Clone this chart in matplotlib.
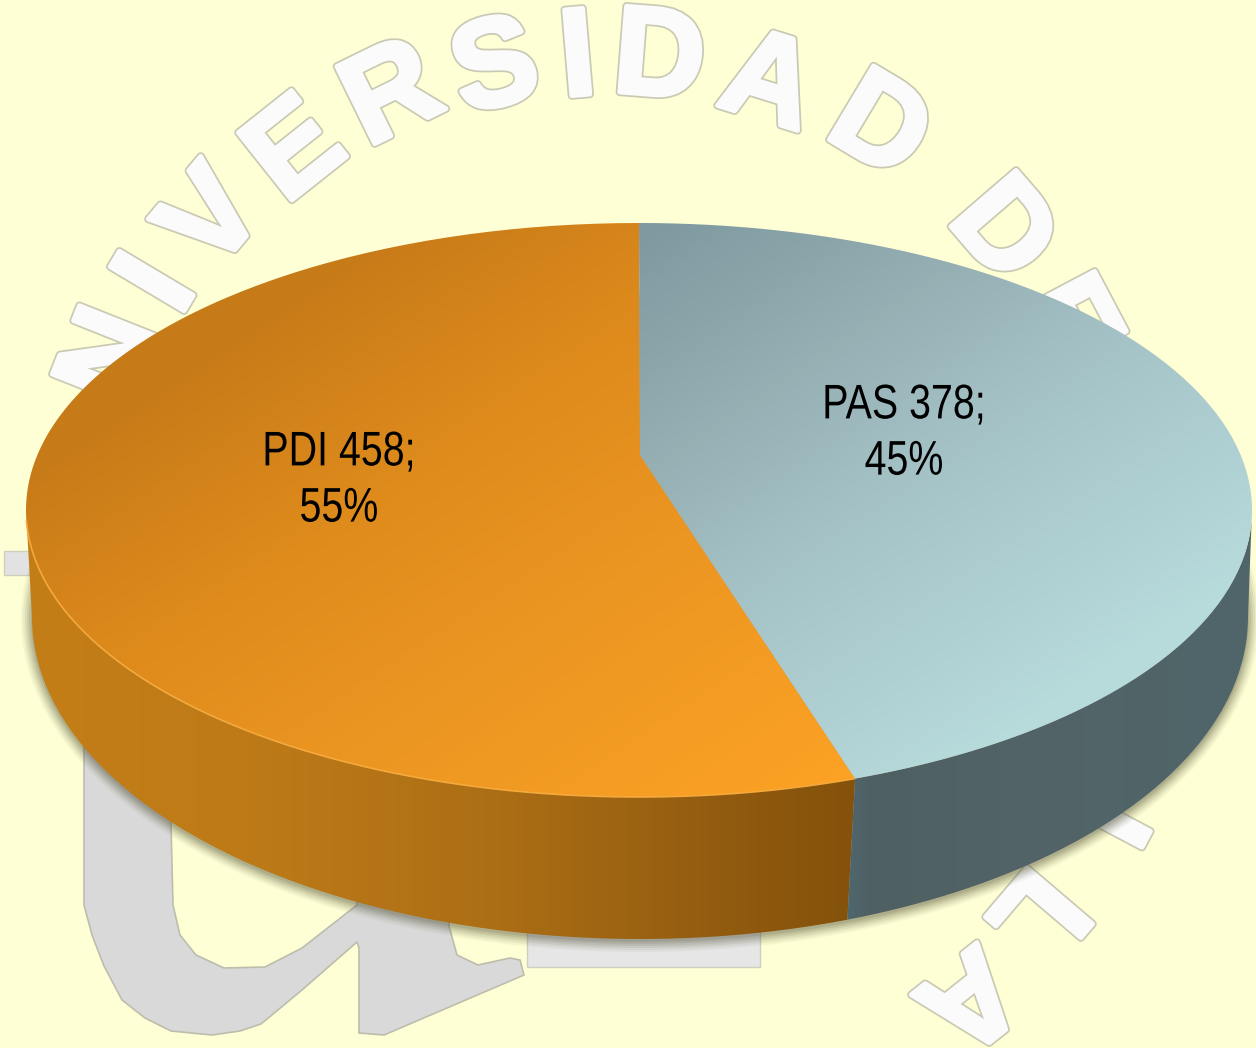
import numpy as np
import matplotlib
matplotlib.use('Agg')
import matplotlib.pyplot as plt
import matplotlib.patheffects as pe
from matplotlib.colors import to_rgb
from matplotlib.patches import PathPatch, Polygon, Rectangle, Ellipse
from matplotlib.path import Path
from matplotlib.transforms import Affine2D

# data
names = ['PAS', 'PDI']
values = [378, 458]
percents = [45, 55]

BG = '#FFFFD5'
W, H = 1256, 1048

# top face and bottom rim of the disc, in pixels
cx, cy, rx, ry = 639, 510, 613, 287
bx, by, brx, bry = 640, 617, 608, 322
apex = (640, 455)

# watermark letters, going clockwise round the seal
wm_letters = ['N', 'I', 'V', 'E', 'R', 'S', 'I', 'D', 'A', 'D', 'D', 'E', 'I', 'L', 'A']
wm_x = [104, 150, 206, 290, 388, 493, 577, 660, 771, 884, 1009, 1074, 1110, 1042, 972]
wm_y = [355, 280, 214, 144, 87, 60, 50, 50, 75, 120, 225, 320, 820, 920, 1004]
seal = (620, 560)

fig = plt.figure(figsize=(W / 100, H / 100), dpi=100, facecolor=BG)
ax = fig.add_axes([0, 0, 1, 1])
ax.set_xlim(0, W)
ax.set_ylim(H, 0)
ax.axis('off')


class Squeeze(pe.AbstractPathEffect):
    # the labels are set in a condensed face, none is installed so narrow the glyphs
    def __init__(self, sx, x0):
        super().__init__()
        self.sx = sx
        self.x0 = x0

    def draw_path(self, renderer, gc, tpath, affine, rgbFace=None):
        squeeze = Affine2D().translate(-self.x0, 0).scale(self.sx, 1).translate(self.x0, 0)
        renderer.draw_path(gc, tpath, affine + squeeze, rgbFace)


def ramp(t, stops, cols):
    rgb = np.array([to_rgb(c) for c in cols])
    return np.dstack([np.interp(t, stops, rgb[:, i]) for i in range(3)])


def fill_clipped(img, verts):
    im = ax.imshow(img, extent=(0, W, H, 0), aspect='auto', zorder=5, interpolation='bilinear')
    patch = PathPatch(Path(verts), transform=ax.transData, fc='none', ec='none')
    ax.add_patch(patch)
    im.set_clip_path(patch)
    ax.set_xlim(0, W)
    ax.set_ylim(H, 0)


def arc(x0, y0, a, b, t0, t1, n=200):
    # angle measured clockwise from the top of the ellipse
    t = np.radians(np.linspace(t0, t1, n))
    return np.column_stack([x0 + a * np.sin(t), y0 - b * np.cos(t)])


# watermark
ax.add_patch(Polygon([(84, 735), (84, 905), (92, 935), (104, 966), (122, 1000), (145, 1018), (171, 1031),
                      (212, 1035), (240, 1031), (261, 1024), (302, 990), (357, 942), (359, 948),
                      (359, 1033), (384, 1035), (524, 975), (520, 960), (510, 958), (478, 965),
                      (457, 955), (449, 926), (449, 800), (357, 800), (357, 905), (302, 948),
                      (265, 967), (224, 968), (196, 955), (180, 935), (173, 905), (171, 825), (171, 735)],
                     fc='#D9D9D9', ec='#BDBDAE', lw=1.2, zorder=1))
ax.add_patch(Rectangle((4, 551), 30, 24, fc='#E2E2E2', ec='#CFCFC0', lw=1, zorder=1))
ax.add_patch(Rectangle((527, 900), 233, 67, fc='#E6E6E6', ec='#CFCFC0', lw=1, zorder=1))
for ch, x, y in zip(wm_letters, wm_x, wm_y):
    ang = np.degrees(np.arctan2(x - seal[0], seal[1] - y))
    ax.text(x, y, ch, rotation=-ang, rotation_mode='anchor', ha='center', va='center_baseline',
            family='Liberation Sans', weight='bold', fontsize=90, color='#FBFBFB', zorder=2,
            path_effects=[pe.withStroke(linewidth=6, foreground='#C9C9B4'),
                          pe.withStroke(linewidth=3.5, foreground='#FBFBFB')])

# soft shadow round the wall
for grow, a in zip([11, 9, 7, 5, 3, 1], [0.05, 0.07, 0.09, 0.11, 0.13, 0.15]):
    ax.add_patch(Ellipse((bx, by + 2), 2 * (brx + grow), 2 * (bry + grow), fc='#54543A', ec='none',
                         alpha=a, zorder=3))

# side wall
xx, yy = np.meshgrid(np.arange(W) + 0.5, np.arange(H) + 0.5)

share = values[0] / sum(values)
split = 360 * share * 0.979
split_bot = split + 0.7
end_top = arc(cx, cy, rx, ry, split, split, 1)[0]
end_bot = arc(bx, by, brx, bry, split_bot, split_bot, 1)[0]

wall_pdi = np.vstack([[end_top], arc(cx, cy, rx, ry, split, 270),
                      arc(bx, by, brx, bry, 270, split_bot), [end_bot]])
wall_pas = np.vstack([arc(cx, cy, rx, ry, 90, split), [end_top], [end_bot],
                      arc(bx, by, brx, bry, split_bot, 90)])
fill_clipped(ramp(xx, [30, 250, 500, 700, 850], ['#C47E17', '#BD7A18', '#AC6E15', '#945D10', '#84520B']), wall_pdi)
fill_clipped(ramp(xx, [850, 870, 1000, 1250], ['#4F666D', '#4F6063', '#526366', '#50666A']), wall_pas)

# top face
t_pdi = xx * 0.55 + yy * 0.83
t_pas = xx * 0.55 + yy * 0.83
face_pas = np.vstack([[apex], arc(cx, cy, rx, ry, 0, split)])
face_pdi = np.vstack([[apex], arc(cx, cy, rx, ry, split, 360)])
fill_clipped(ramp(t_pdi, [400, 600, 800, 1100], ['#C67A18', '#DD8A1C', '#EA9522', '#FBA124']), face_pdi)
fill_clipped(ramp(t_pas, [550, 750, 900, 1160], ['#7E9AA0', '#96B0B4', '#A5C3C7', '#B7DADB']), face_pas)

# lit rim along the front of the pie
rim = arc(cx, cy, rx, ry, split, 268)
ax.plot(rim[:, 0], rim[:, 1], color='#F5A93C', lw=1.2, zorder=6, solid_capstyle='butt')

# labels
label_x = [904, 339]
label_y = [434, 481]
for name, v, p, x, y in zip(names, values, percents, label_x, label_y):
    ax.text(x, y, f'{name} {v};\n{p}%', ha='center', va='center', multialignment='center',
            family='Liberation Sans', fontsize=35, linespacing=1.32, color='black', zorder=7,
            path_effects=[Squeeze(0.81, x)])

fig.savefig('out.png', dpi=100, facecolor=BG)
